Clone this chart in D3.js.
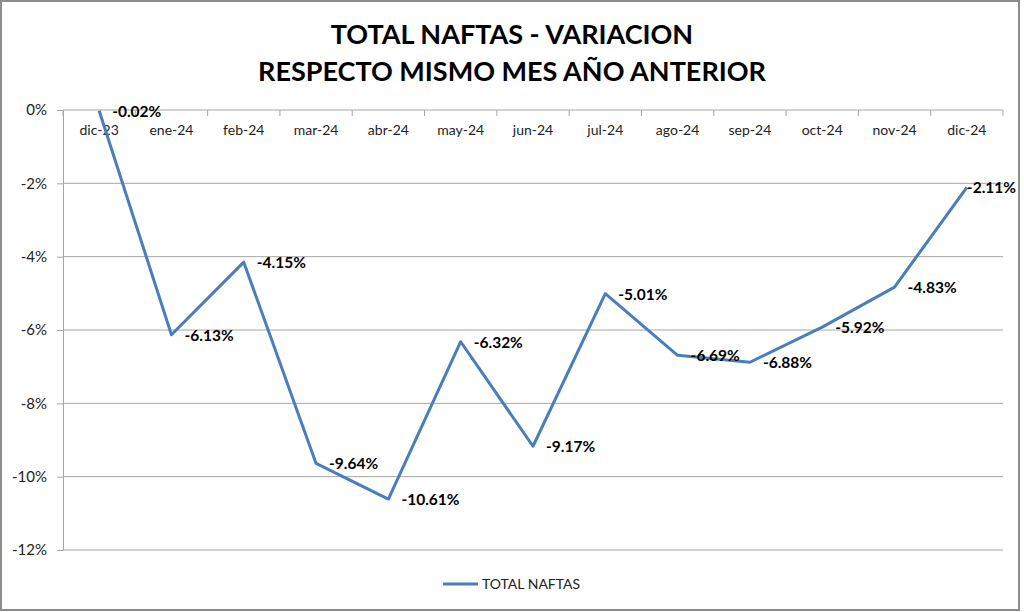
<!DOCTYPE html>
<html>
<head>
<meta charset="utf-8">
<script src="https://cdn.jsdelivr.net/npm/d3@7"></script>
<style>
  body { margin: 0; background: #fff; }
  svg { display: block; }
</style>
</head>
<body>
<svg id="chart" width="1024" height="612"></svg>
<script>
const months = ["dic-23", "ene-24", "feb-24", "mar-24", "abr-24", "may-24", "jun-24",
                "jul-24", "ago-24", "sep-24", "oct-24", "nov-24", "dic-24"];
const naftas = [-0.02, -6.13, -4.15, -9.64, -10.61, -6.32, -9.17, -5.01, -6.69, -6.88, -5.92, -4.83, -2.11];
const yTicks = [0, -2, -4, -6, -8, -10, -12];
const titleLines = ["TOTAL NAFTAS - VARIACION", "RESPECTO MISMO MES AÑO ANTERIOR"];
const seriesName = "TOTAL NAFTAS";

const svg = d3.select("#chart");
const m = { left: 63, right: 1003, top: 110, bottom: 550 };
const font = "Lato, 'Open Sans', sans-serif";

// chart border
svg.append("rect")
  .attr("x", 1).attr("y", 1).attr("width", 1018).attr("height", 609)
  .attr("fill", "#fff").attr("stroke", "#8c8c8c").attr("stroke-width", 2);

// title
svg.append("g").selectAll("text")
  .data(titleLines)
  .join("text")
  .attr("x", 512)
  .attr("y", (d, i) => 44 + i * 37)
  .attr("text-anchor", "middle")
  .attr("font-family", font)
  .attr("font-weight", "bold")
  .attr("font-size", 27)
  .attr("fill", "#000")
  .text(d => d);

const x = d3.scaleBand().domain(months).range([m.left, m.right]);
const y = d3.scaleLinear().domain([-12, 0]).range([m.bottom, m.top]);

// gridlines
svg.append("g").selectAll("line")
  .data(yTicks.filter(d => d !== 0))
  .join("line")
  .attr("x1", m.left).attr("x2", m.right)
  .attr("y1", d => y(d)).attr("y2", d => y(d))
  .attr("stroke", "#a6a6a6").attr("stroke-width", 1);

// y axis
const yAxis = svg.append("g")
  .attr("transform", `translate(${m.left},0)`)
  .call(d3.axisLeft(y).tickValues(yTicks).tickSize(6).tickFormat(d => d + "%"));
yAxis.select(".domain").attr("stroke", "#a6a6a6");
yAxis.selectAll(".tick line").attr("stroke", "#a6a6a6");
yAxis.selectAll(".tick text")
  .attr("x", -16)
  .attr("font-family", font).attr("font-size", 15).attr("fill", "#222");

// x axis sits on the 0% line, ticks between categories
const xg = svg.append("g").attr("transform", `translate(0,${y(0)})`);
xg.append("line")
  .attr("x1", m.left).attr("x2", m.right)
  .attr("stroke", "#a6a6a6");
xg.selectAll("line.tk")
  .data(d3.range(months.length + 1))
  .join("line")
  .attr("class", "tk")
  .attr("x1", i => m.left + i * x.step()).attr("x2", i => m.left + i * x.step())
  .attr("y1", 0).attr("y2", 6)
  .attr("stroke", "#a6a6a6");
xg.selectAll("text")
  .data(months)
  .join("text")
  .attr("x", d => x(d) + x.bandwidth() / 2)
  .attr("y", 25)
  .attr("text-anchor", "middle")
  .attr("font-family", font).attr("font-size", 14).attr("fill", "#222")
  .text(d => d);

// series line
const pts = months.map((mo, i) => [x(mo) + x.bandwidth() / 2, y(naftas[i])]);
svg.append("path")
  .attr("d", d3.line()(pts))
  .attr("fill", "none")
  .attr("stroke", "#4a7ebb")
  .attr("stroke-width", 3)
  .attr("stroke-linejoin", "round");

// data labels (kept inside the frame on the right)
svg.append("g").selectAll("text")
  .data(naftas)
  .join("text")
  .attr("y", (d, i) => pts[i][1] + 6)
  .attr("font-family", font)
  .attr("font-weight", "bold")
  .attr("font-size", 15.5)
  .attr("fill", "#000")
  .text(d => d.toFixed(2) + "%")
  .attr("x", function(d, i) {
    const w = this.getComputedTextLength();
    return Math.min(pts[i][0] + 13, 1016 - w);
  });

// legend
const lg = svg.append("g").attr("transform", "translate(443,584)");
lg.append("line").attr("x1", 0).attr("x2", 35)
  .attr("stroke", "#4a7ebb").attr("stroke-width", 3);
lg.append("text").attr("x", 39).attr("y", 5)
  .attr("font-family", font).attr("font-size", 14).attr("fill", "#222")
  .text(seriesName);
</script>
</body>
</html>
